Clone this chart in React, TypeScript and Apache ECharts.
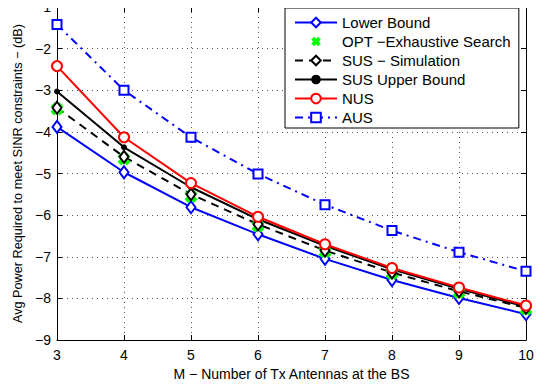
import React, { useEffect, useRef } from "react";
import * as echarts from "echarts";

const antennas = [3, 4, 5, 6, 7, 8, 9, 10];
const lowerBound = [-3.88, -4.97, -5.81, -6.46, -7.05, -7.56, -7.99, -8.38];
const optExhaustive = [-3.45, -4.65, -5.55, -6.26, -6.88, -7.4, -7.86, -8.26];
const susSimulation = [-3.42, -4.6, -5.5, -6.22, -6.85, -7.38, -7.83, -8.23];
const susUpperBound = [-3.03, -4.37, -5.33, -6.1, -6.74, -7.3, -7.77, -8.2];
const nus = [-2.42, -4.13, -5.23, -6.04, -6.7, -7.27, -7.74, -8.17];
const aus = [-1.42, -3.0, -4.13, -5.01, -5.75, -6.37, -6.89, -7.35];

const xTicks = { min: 3, max: 10, interval: 1 };
const yTicks = { min: -9, max: -1, interval: 1 };

const FONT = "Liberation Sans, Arial, Helvetica, sans-serif";
const X_SYMBOL =
  "path://M0,4 L4,0 L7,3 L10,0 L14,4 L11,7 L14,10 L10,14 L7,11 L4,14 L0,10 L3,7 Z";

const pairs = (ys: number[]) => antennas.map((x, i) => [x, ys[i]]);
const minus = (v: number) => String(v).replace("-", "\u2212");

export default function App() {
  const ref = useRef<HTMLDivElement>(null);
  useEffect(() => {
    if (!ref.current) return;
    const chart = echarts.init(ref.current, undefined, { renderer: "svg" });
    const tickStyle = { show: true, inside: true, length: 5, lineStyle: { color: "#000" } };
    const axisLine = { show: true, onZero: false, lineStyle: { color: "#000", width: 1 } };
    const split = { show: true, lineStyle: { color: "#555", type: [1, 4] as any, width: 1 } };
    chart.setOption({
      animation: false,
      backgroundColor: "#fff",
      textStyle: { fontFamily: FONT },
      grid: { left: 57, right: 27, top: 3, bottom: 47, containLabel: false },
      xAxis: [
        {
          type: "value",
          ...xTicks,
          axisLine,
          axisTick: tickStyle,
          splitLine: split,
          axisLabel: { color: "#000", fontSize: 14, fontFamily: FONT, margin: 8 },
          name: "M \u2212 Number of Tx Antennas at the BS",
          nameLocation: "middle",
          nameGap: 22,
          nameTextStyle: { color: "#000", fontSize: 14, fontFamily: FONT },
        },
        {
          type: "value",
          position: "top",
          ...xTicks,
          axisLine,
          axisTick: tickStyle,
          splitLine: { show: false },
          axisLabel: { show: false },
        },
      ],
      yAxis: [
        {
          type: "value",
          ...yTicks,
          axisLine,
          axisTick: tickStyle,
          splitLine: split,
          axisLabel: {
            color: "#000",
            fontSize: 14,
            fontFamily: FONT,
            margin: 6,
            padding: [3, 0, 0, 0],
            formatter: (v: number) => minus(v),
          },
          name: "Avg Power Required to meet SINR constraints \u2212 (dB)",
          nameLocation: "middle",
          nameGap: 26,
          nameTextStyle: { color: "#000", fontSize: 12.7, fontFamily: FONT },
        },
        {
          type: "value",
          position: "right",
          ...yTicks,
          axisLine,
          axisTick: tickStyle,
          splitLine: { show: false },
          axisLabel: { show: false },
        },
      ],
      legend: {
        orient: "vertical",
        left: 285,
        top: 8,
        padding: [7, 8, 3, 9],
        itemWidth: 42,
        itemHeight: 12,
        itemGap: 4,
        backgroundColor: "#fff",
        borderColor: "#000",
        borderWidth: 1,
        textStyle: { color: "#000", fontSize: 15, lineHeight: 15, fontFamily: FONT },
        data: [
          "Lower Bound",
          "OPT \u2212Exhaustive Search",
          "SUS \u2212 Simulation",
          "SUS Upper Bound",
          "NUS",
          "AUS",
        ],
      },
      series: [
        {
          name: "Lower Bound",
          type: "line",
          data: pairs(lowerBound),
          symbol: "emptyDiamond",
          symbolSize: [9, 12],
          lineStyle: { color: "#0000ff", width: 2 },
          itemStyle: { color: "#0000ff", borderWidth: 2 },
        },
        {
          name: "OPT \u2212Exhaustive Search",
          type: "line",
          data: pairs(optExhaustive),
          symbol: X_SYMBOL,
          symbolSize: 13,
          lineStyle: { width: 0, opacity: 0 },
          itemStyle: { color: "#00ff00" },
        },
        {
          name: "SUS \u2212 Simulation",
          type: "line",
          data: pairs(susSimulation),
          symbol: "emptyDiamond",
          symbolSize: [9, 12],
          lineStyle: { color: "#000", width: 2, type: [8, 6] as any },
          itemStyle: { color: "#000", borderWidth: 2 },
        },
        {
          name: "SUS Upper Bound",
          type: "line",
          data: pairs(susUpperBound),
          symbol: "circle",
          symbolSize: 6,
          lineStyle: { color: "#000", width: 2 },
          itemStyle: { color: "#000" },
        },
        {
          name: "NUS",
          type: "line",
          data: pairs(nus),
          symbol: "emptyCircle",
          symbolSize: 10,
          lineStyle: { color: "#ff0000", width: 2 },
          itemStyle: { color: "#ff0000", borderWidth: 2 },
        },
        {
          name: "AUS",
          type: "line",
          data: pairs(aus),
          symbol: "emptyRect",
          symbolSize: 9,
          lineStyle: { color: "#0000ff", width: 2, type: [8, 5, 2, 5] as any },
          itemStyle: { color: "#0000ff", borderWidth: 2 },
        },
      ],
    });
    return () => chart.dispose();
  }, []);
  return <div ref={ref} style={{ width: 553, height: 387, margin: -8 }} />;
}
